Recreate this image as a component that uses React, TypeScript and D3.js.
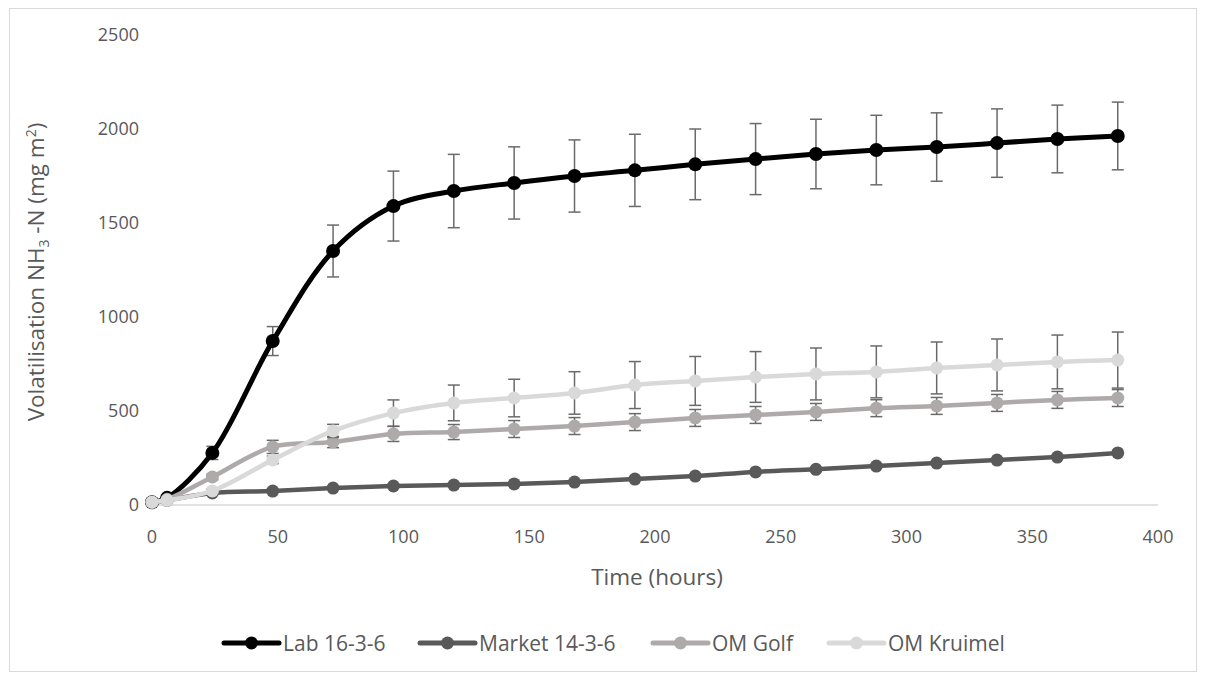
import React from "react";
import * as d3 from "d3";

const times = [0, 6, 24, 48, 72, 96, 120, 144, 168, 192, 216, 240, 264, 288, 312, 336, 360, 384];
const lab = [15, 38, 277, 872, 1351, 1590, 1670, 1713, 1750, 1780, 1812, 1840, 1867, 1888, 1904, 1925, 1947, 1963];
const labErr = [0, 0, 35, 77, 138, 186, 195, 192, 192, 192, 188, 189, 185, 185, 182, 182, 180, 180];
const market = [15, 25, 64, 74, 90, 101, 106, 112, 122, 138, 154, 176, 190, 207, 223, 239, 255, 277];
const golf = [15, 30, 149, 309, 335, 378, 388, 404, 420, 441, 463, 479, 495, 515, 527, 543, 559, 569];
const golfErr = [0, 0, 15, 35, 30, 40, 40, 45, 45, 45, 45, 45, 45, 45, 45, 45, 45, 45];
const kruimel = [15, 25, 75, 240, 394, 489, 543, 569, 596, 638, 660, 681, 697, 708, 729, 745, 761, 771];
const kruimelErr = [0, 0, 10, 20, 35, 70, 95, 100, 113, 125, 130, 135, 138, 138, 138, 138, 143, 149];

const xTicks = [0, 50, 100, 150, 200, 250, 300, 350, 400];
const yTicks = [0, 500, 1000, 1500, 2000, 2500];

const seriesNames = ["Lab 16-3-6", "Market 14-3-6", "OM Golf", "OM Kruimel"];
const seriesColors = ["#000000", "#595959", "#aeaaaa", "#d9d9d9"];

export default function App() {
  const W = 1205, H = 680;
  const x = d3.scaleLinear().domain([0, 400]).range([152, 1158]);
  const y = d3.scaleLinear().domain([0, 2500]).range([505, 35]);
  const font = "'Open Sans', sans-serif";
  const textColor = "#595959";

  const series = [
    { name: seriesNames[0], vals: lab, err: labErr, color: seriesColors[0], w: 5, r: 7 },
    { name: seriesNames[1], vals: market, err: null as number[] | null, color: seriesColors[1], w: 4.5, r: 6.5 },
    { name: seriesNames[2], vals: golf, err: golfErr, color: seriesColors[2], w: 4.5, r: 6.5 },
    { name: seriesNames[3], vals: kruimel, err: kruimelErr, color: seriesColors[3], w: 4.5, r: 6.5 },
  ];

  const line = d3
    .line<number>()
    .x((_, i) => x(times[i]))
    .y((v) => y(v))
    .curve(d3.curveCatmullRom.alpha(0.5));

  const legendX = [224, 420, 653, 829];

  return (
    <svg width={W} height={H} style={{ position: "absolute", left: 0, top: 0 }} fontFamily={font}>
      <rect x={0} y={0} width={W} height={H} fill="#fff" />
      <rect x={9.5} y={8.5} width={1187} height={663} fill="none" stroke="#d9d9d9" strokeWidth={1} />
      <line x1={x(0)} x2={x(400)} y1={y(0)} y2={y(0)} stroke="#d9d9d9" strokeWidth={1.5} />
      {yTicks.map((t) => (
        <text key={t} x={139} y={y(t)} dy="0.36em" textAnchor="end" fontSize={18} fill={textColor}>
          {t}
        </text>
      ))}
      {xTicks.map((t) => (
        <text key={t} x={x(t)} y={537} dy="0.36em" textAnchor="middle" fontSize={18} fill={textColor}>
          {t}
        </text>
      ))}
      <text x={657} y={577} dy="0.36em" textAnchor="middle" fontSize={22.5} fill={textColor}>
        Time (hours)
      </text>
      <text transform="translate(36,272) rotate(-90)" textAnchor="middle" dy="0.36em" fontSize={22.5} fill={textColor}>
        Volatilisation NH
        <tspan fontSize={14} dy="5">3</tspan>
        <tspan dy="-5"> -N (mg m</tspan>
        <tspan fontSize={14} dy="-8">2</tspan>
        <tspan dy="8">)</tspan>
      </text>
      {series.map((s, si) => (
        <g key={s.name}>
          {s.err
            ? s.vals.map((v, i) =>
                s.err![i] > 0 ? (
                  <g key={`e${si}-${i}`} stroke="#6a6a6a" strokeWidth={1.5}>
                    <line x1={x(times[i])} x2={x(times[i])} y1={y(v - s.err![i])} y2={y(v + s.err![i])} />
                    <line x1={x(times[i]) - 6} x2={x(times[i]) + 6} y1={y(v + s.err![i])} y2={y(v + s.err![i])} />
                    <line x1={x(times[i]) - 6} x2={x(times[i]) + 6} y1={y(v - s.err![i])} y2={y(v - s.err![i])} />
                  </g>
                ) : null
              )
            : null}
          <path d={line(s.vals) || ""} fill="none" stroke={s.color} strokeWidth={s.w} strokeLinejoin="round" />
          {s.vals.map((v, i) => (
            <circle key={i} cx={x(times[i])} cy={y(v)} r={s.r} fill={s.color} />
          ))}
        </g>
      ))}
      {series.map((s, i) => (
        <g key={`l${i}`}>
          <line x1={legendX[i]} x2={legendX[i] + 55} y1={643} y2={643} stroke={s.color} strokeWidth={5} strokeLinecap="round" />
          <circle cx={legendX[i] + 27.5} cy={643} r={6.5} fill={s.color} />
          <text x={legendX[i] + 59} y={643} dy="0.36em" fontSize={21} fill={textColor}>
            {s.name}
          </text>
        </g>
      ))}
    </svg>
  );
}
